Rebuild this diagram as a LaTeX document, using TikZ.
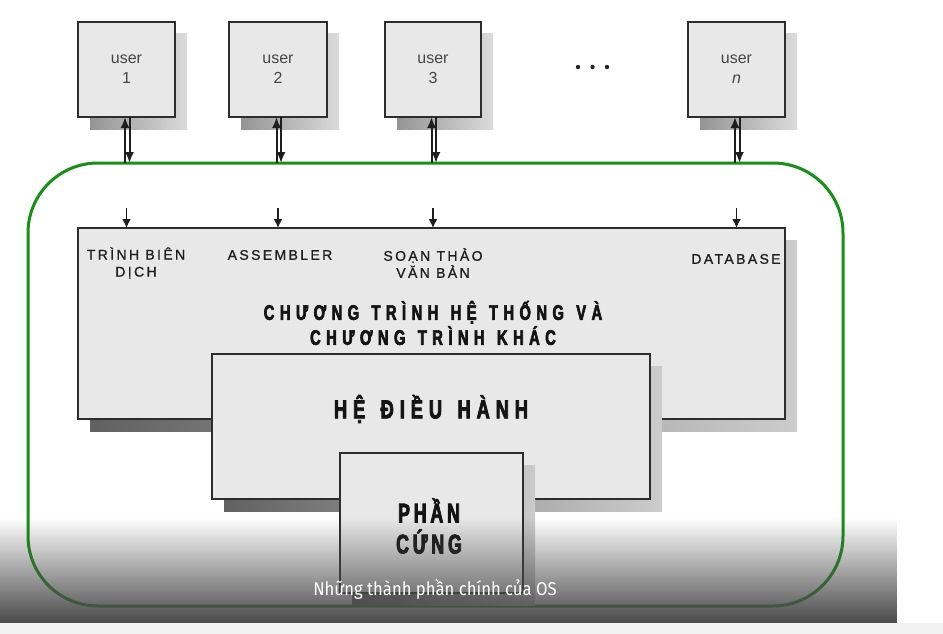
\documentclass[tikz,border=0pt]{standalone}
\usepackage{fontspec}
\setmainfont{Liberation Sans}
\newfontfamily\lblfont{Liberation Sans}[LetterSpace=17,FakeBold=1]
\newfontfamily\headfont{Liberation Sans}[FakeStretch=0.7,LetterSpace=26,WordSpace=1.3,BoldFeatures={FakeBold=3}]
\newfontfamily\osfont{Liberation Sans}[FakeStretch=0.7,LetterSpace=23,WordSpace=1.4,BoldFeatures={FakeBold=3}]
\newfontfamily\hwfont{Liberation Sans}[FakeStretch=0.66,LetterSpace=14,BoldFeatures={FakeBold=3}]
\newfontfamily\capfont{Fira Sans}[FakeStretch=0.9]
\usetikzlibrary{arrows.meta,calc,shadows,fadings}

\definecolor{boxfill}{RGB}{232,232,232}
\definecolor{boxline}{RGB}{45,45,45}
\definecolor{sysgreen}{RGB}{22,145,22}
\definecolor{usertext}{RGB}{70,70,70}
\definecolor{stripgray}{RGB}{242,242,242}
\definecolor{ink}{RGB}{30,30,30}

\tikzset{
  panel/.style={draw=boxline, line width=1.5pt, fill=boxfill, inner sep=0pt, outer sep=0pt,
    general shadow={shadow xshift=12pt, shadow yshift=-12pt, left color=black!62, right color=black!20}},
  userbox/.style={draw=boxline, line width=1.5pt, fill=boxfill, inner sep=0pt, outer sep=0pt,
    general shadow={shadow xshift=12pt, shadow yshift=-12pt, left color=black!42, right color=black!14},
    minimum height=95pt, align=center, text=usertext, font=\fontsize{16}{20}\selectfont},
  lbl/.style={align=center, text=black!88, inner sep=0pt, font=\lblfont\fontsize{14}{17}\selectfont},
  head/.style={align=center, inner sep=0pt, text=black!92},
  userlink/.style={line width=2pt, draw=ink, -{Latex[length=11pt,width=9pt]}},
  feedlink/.style={line width=1.6pt, draw=ink, -{Latex[length=9pt,width=9pt]}},
}

\begin{document}
\begin{tikzpicture}[x=1pt,y=-1pt]
\useasboundingbox (0,0) rectangle (943,634);
\fill[white] (0,0) rectangle (943,634);

% users
\node[userbox, minimum width=97pt] (u1) at (126.5,69.5) {user\\1};
\node[userbox, minimum width=98pt] (u2) at (278,69.5) {user\\2};
\node[userbox, minimum width=96pt] (u3) at (433,69.5) {user\\3};
\node[userbox, minimum width=97pt] (un) at (736.5,69.5) {user\\\textit{n}};
\fill[black!85] (578,67) circle (2.2) (592.5,67) circle (2.2) (607,67) circle (2.2);

% system boundary
\node[draw=sysgreen, line width=3pt, rounded corners=70pt, minimum width=815pt,
      minimum height=443pt, inner sep=0pt, outer sep=0pt] (sys) at (435.5,384.5) {};

% user <-> system links: up shaft on the left, down shaft on the right
\foreach \usr in {u1,u2,u3,un}{
  \coordinate (\usr-top) at (\usr.south |- sys.north);
  \draw[userlink] ($(\usr-top)+(-1.5,0)$) -- ($(\usr.south)+(-1.5,0)$);
  \draw[userlink] ($(\usr.south)+(3,0)$) -- ($(\usr-top)+(3,0)$);
}

% programs layer
\node[panel, minimum width=707pt, minimum height=191pt] (prog) at (431.5,323.5) {};
\foreach \usr in {u1,u2,u3,un}{
  \coordinate (\usr-in) at ($(\usr.south |- prog.north)+(0,-20)$);
  \draw[feedlink] (\usr-in) -- (\usr.south |- prog.north);
}
\node[lbl] (comp) at (136,263) {TRÌNH BIÊN\\DỊCH};
\node[lbl] (asm) at (280,255) {ASSEMBLER};
\node[lbl] (edit) at (433,263) {SOẠN THẢO\\VĂN BẢN};
\node[lbl] (db) at (736,259) {DATABASE};
\node[head, font=\headfont\bfseries\fontsize{21}{25}\selectfont] (progt) at (433,323)
  {CHƯƠNG TRÌNH HỆ THỐNG VÀ\\CHƯƠNG TRÌNH KHÁC};

% operating system layer
\node[panel, minimum width=438pt, minimum height=145pt] (os) at (431,426.5) {};
\node[head, font=\osfont\bfseries\fontsize{26}{28}\selectfont] (ost) at (431,409) {HỆ ĐIỀU HÀNH};

% hardware layer
\node[panel, minimum width=183pt, minimum height=140pt] (hw) at (431.5,523) {};
\node[head, font=\hwfont\bfseries\fontsize{27}{31}\selectfont] (hwt) at (429,526) {PHẦN\\CỨNG};

% caption band
\fill[black!71, path fading=north] (0,518) rectangle (897,623);
\fill[stripgray] (0,623) rectangle (943,634);
\node[text=white, inner sep=0pt, font=\capfont\fontsize{18.5}{20}\selectfont] (cap) at (435,589)
  {Những thành phần chính của OS};
\end{tikzpicture}
\end{document}
